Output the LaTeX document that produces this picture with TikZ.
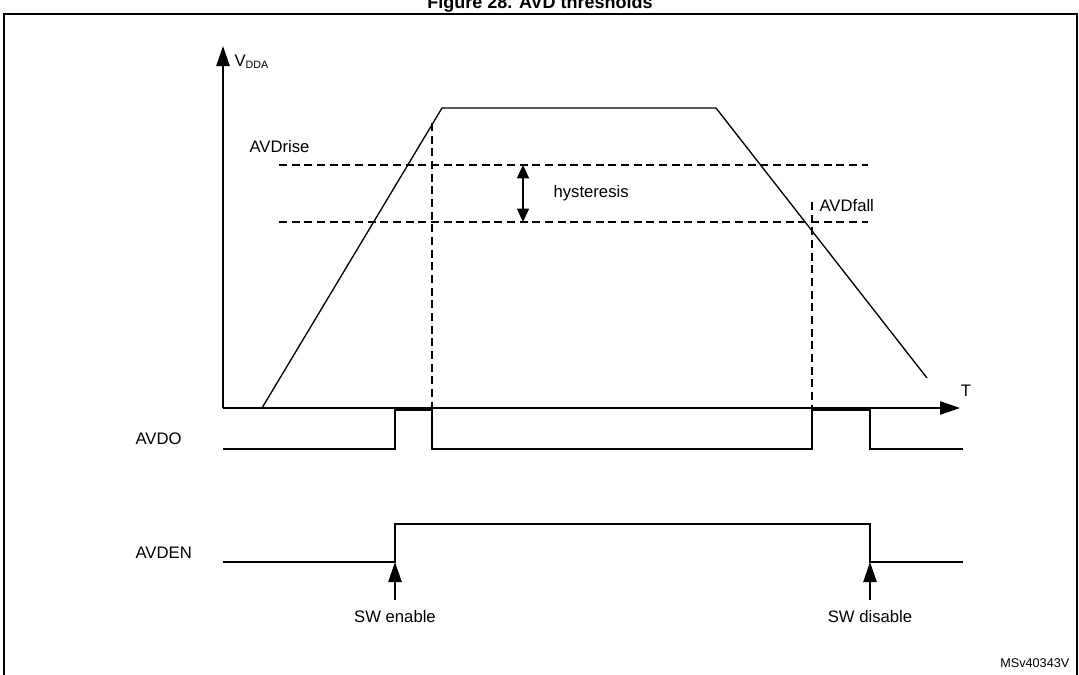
\documentclass[tikz,border=0pt]{standalone}
\usepackage{fontspec}
\setmainfont{Liberation Sans}
\usetikzlibrary{arrows.meta}
\tikzstyle{label} = [inner sep=1pt, font=\fontsize{12.5}{14}\selectfont]
\tikzstyle{thresh} = [dash pattern=on 6pt off 3.5pt, line width=0.8pt]
\tikzstyle{signal} = [line width=1pt]
\tikzstyle{arrow} = [line width=1pt, -{Triangle[length=15pt, width=10pt]}]

\begin{document}
\begin{tikzpicture}[x=0.75pt, y=-0.75pt]
		\useasboundingbox (0,0) rectangle (1079,675);
		\draw[line width=1.6pt] (4,14) rectangle (1077,690);
		\node (title) at (540,4) {\fontsize{13.5}{15}\selectfont\bfseries Figure 28. AVD thresholds};
		
		% axes
		\coordinate (origin) at (223,408);
		\coordinate (ytip) at (223,46);
		\coordinate (xtip) at (960,408);
		\draw [arrow] (origin) -- (ytip);
		\draw [arrow] (origin) -- (xtip);
		\node (vdda) [label, anchor=west] at (233,62) {V\textsubscript{\fontsize{8}{9}\selectfont DDA}};
		\node (taxis) [label] at (966,391) {T};
		
		% supply ramp
		\draw [signal] (262,408) -- (442,108) -- (716,108) -- (927,378);
		
		% thresholds
		\draw [thresh] (279,165) -- (868,165);
		\draw [thresh] (279,222) -- (868,222);
		\node (rise) [label, anchor=west] at (248,147) {AVDrise};
		\node (fall) [label, anchor=west] at (818,206) {AVDfall};
		\coordinate (hyst1) at (523,165);
		\coordinate (hyst2) at (523,222);
		\draw [line width=1pt, {Triangle[length=10pt, width=9pt]}-{Triangle[length=10pt, width=9pt]}] (hyst1) -- (hyst2);
		\node (hyst) [label, anchor=west] at (552,193) {hysteresis};
		
		\draw [thresh] (432,123) -- (432,410);
		\draw [thresh] (812,202) -- (812,410);
		
		% AVDO
		\node (avdo) [label, anchor=west] at (134,439) {AVDO};
		\draw [signal] (223,449) -- (395,449) -- (395,410) -- (432,410) -- (432,449)
			-- (812,449) -- (812,410) -- (870,410) -- (870,449) -- (963,449);
		
		% AVDEN
		\node (avden) [label, anchor=west] at (134,553) {AVDEN};
		\draw [signal] (223,562) -- (395,562) -- (395,524) -- (870,524) -- (870,562) -- (963,562);
		
		% software events
		\coordinate (en) at (395,562);
		\coordinate (dis) at (870,562);
		\draw [arrow] (395,600) -- (en);
		\draw [arrow] (870,600) -- (dis);
		\node (swen) [label] at (395,617) {SW enable};
		\node (swdis) [label] at (870,617) {SW disable};
		
		\node (ref) [anchor=east, font=\fontsize{9.5}{10}\selectfont] at (1074,663) {MSv40343V};
		
	\end{tikzpicture}
\end{document}
